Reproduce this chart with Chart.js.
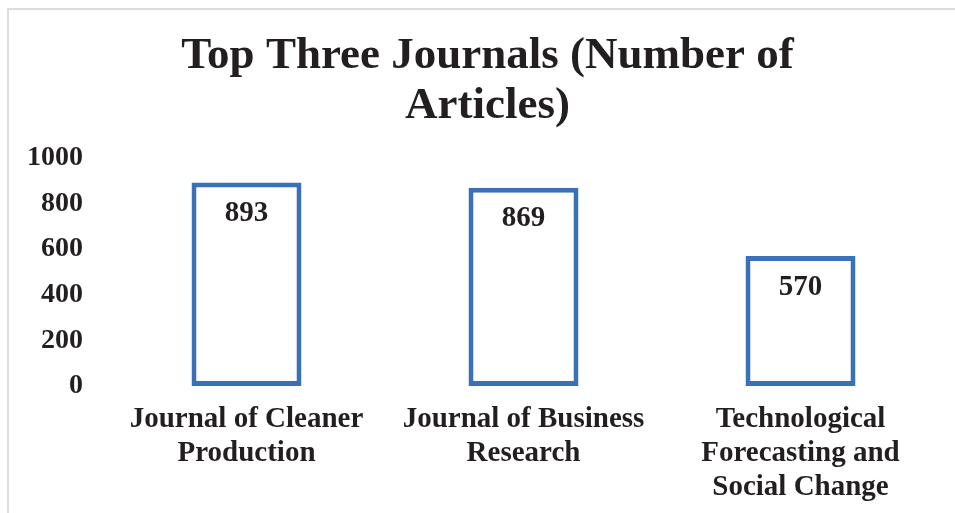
<!DOCTYPE html>
<html>
<head>
<meta charset="utf-8">
<script src="https://cdn.jsdelivr.net/npm/chart.js@4"></script>
<style>
  html, body { margin: 0; padding: 0; background: #fff; }
  #wrap { position: relative; width: 955px; height: 513px; }
  #frame { position: absolute; left: 7px; top: 8px; right: 0; bottom: 0;
           border-left: 2px solid #dcdcdc; border-top: 2px solid #dcdcdc; }
  canvas { position: absolute; left: 0; top: 0; }
</style>
</head>
<body>
<div id="wrap">
  <div id="frame"></div>
  <canvas id="journalChart"></canvas>
</div>
<script>
// chart data
const journals = [
    ["Journal of Cleaner", "Production"],
    ["Journal of Business", "Research"],
    ["Technological", "Forecasting and", "Social Change"]
];
const articleCounts = [893, 869, 570];
const yTicks = [0, 200, 400, 600, 800, 1000];

const SERIF = "'Liberation Serif', 'Times New Roman', serif";
const TEXT = "#231f20";

// value labels drawn just inside the top of each bar
const innerLabels = {
    id: "innerLabels",
    afterDatasetsDraw(chart) {
        const ctx = chart.ctx;
        const meta = chart.getDatasetMeta(0);
        ctx.save();
        ctx.font = "bold 29px " + SERIF;
        ctx.fillStyle = TEXT;
        ctx.textAlign = "center";
        ctx.textBaseline = "middle";
        meta.data.forEach((bar, i) => {
            ctx.fillText(String(articleCounts[i]), bar.x, bar.y + 31);
        });
        ctx.restore();
    }
};

// y labels are clipped to the axis box; let that box reach the canvas edge
const widenYAxis = {
    id: "widenYAxis",
    afterLayout(chart) {
        chart.scales.y.left = 0;
    }
};

const canvas = document.getElementById("journalChart");

new Chart(canvas, {
    type: "bar",
    data: {
        labels: journals,
        datasets: [{
            data: articleCounts,
            backgroundColor: "#ffffff",
            borderColor: "#3a70b8",
            borderWidth: 5,
            borderSkipped: false,
            categoryPercentage: 1,
            barPercentage: 0.397
        }]
    },
    options: {
        responsive: true,
        maintainAspectRatio: false,
        animation: false,
        layout: { padding: { left: 36, right: 16, top: 0, bottom: 0 } },
        plugins: {
            legend: { display: false },
            tooltip: { enabled: false },
            title: {
                display: true,
                text: ["Top Three Journals (Number of", "Articles)"],
                color: TEXT,
                font: { family: SERIF, size: 45, weight: "bold", lineHeight: 1.1 },
                padding: { top: 32, bottom: 27 }
            }
        },
        scales: {
            x: {
                grid: { display: false, drawTicks: false },
                border: { display: false },
                ticks: {
                    color: TEXT,
                    font: { family: SERIF, size: 29, weight: "bold", lineHeight: 1.16 },
                    padding: 17,
                    maxRotation: 0,
                    autoSkip: false
                },
                afterFit(scale) { scale.height = 127; }
            },
            y: {
                min: 0,
                max: 1000,
                grid: { display: false, drawTicks: false },
                border: { display: false },
                afterBuildTicks(scale) { scale.ticks = yTicks.map(v => ({ value: v })); },
                ticks: {
                    color: TEXT,
                    font: { family: SERIF, size: 28, weight: "bold" },
                    padding: 25,
                    callback: (value) => String(value)
                },
                afterFit(scale) { scale.width = 72; }
            }
        }
    },
    plugins: [innerLabels, widenYAxis]
});
</script>
</body>
</html>
